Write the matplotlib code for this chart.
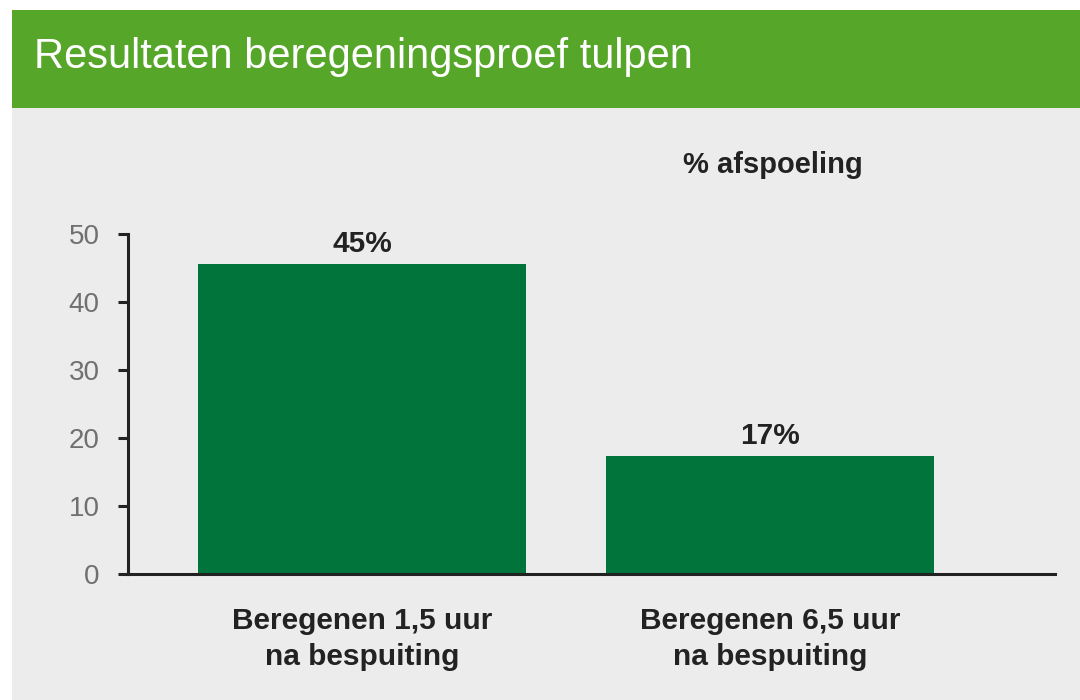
import matplotlib.pyplot as plt
from matplotlib.patches import Rectangle

# data
categories = ["Beregenen 1,5 uur\nna bespuiting", "Beregenen 6,5 uur\nna bespuiting"]
values = [45.6, 17.4]
value_labels = ["45%", "17%"]
yticks = [0, 10, 20, 30, 40, 50]
title = "Resultaten beregeningsproef tulpen"
unit_label = "% afspoeling"

W, H = 1080, 700
plt.rcParams['font.family'] = ['Liberation Sans', 'DejaVu Sans']

def fx(px):
    return px / W

def fy(py):
    return 1 - py / H

fig = plt.figure(figsize=(W / 100, H / 100), dpi=100, facecolor='white')

# grey panel + green header band (behind the axes)
fig.patches.append(Rectangle((fx(12), 0), 1 - fx(12), fy(10), transform=fig.transFigure,
                             facecolor='#ececec', edgecolor='none', zorder=-2))
fig.patches.append(Rectangle((fx(12), fy(108)), 1 - fx(12), fy(10) - fy(108), transform=fig.transFigure,
                             facecolor='#55a629', edgecolor='none', zorder=-1))
fig.text(fx(34), fy(68), title, color='white', fontsize=30, va='baseline', ha='left')

# axes
x0, x1 = 128, 1055
ybot, ytop = 574, 234
ax = fig.add_axes([fx(x0), fy(ybot), fx(x1) - fx(x0), fy(ytop) - fy(ybot)])
ax.set_zorder(2)
ax.patch.set_alpha(0)

xs = list(range(len(categories)))
ax.bar(xs, values, width=0.804, color='#00743a', zorder=2)
for x, v, lab in zip(xs, values, value_labels):
    ax.annotate(lab, (x, v), xytext=(0, 8.5), textcoords='offset points',
                ha='center', va='baseline', fontsize=21.5, fontweight='bold', color='#222222')

ax.set_xlim(-0.5735, 1.6985)
ax.set_ylim(0, 50)
ax.set_yticks(yticks)
ax.set_xticks(xs)
ax.set_xticklabels(categories, fontsize=21.5, fontweight='bold', color='#222222',
                   linespacing=1.35)
ax.tick_params(axis='x', length=0, pad=24)
ax.tick_params(axis='y', length=7.5, width=2.2, color='#222222', pad=13,
               labelsize=20, labelcolor='#707070')
for s in ['top', 'right']:
    ax.spines[s].set_visible(False)
for s in ['left', 'bottom']:
    ax.spines[s].set_linewidth(2.2)
    ax.spines[s].set_color('#222222')

fig.text(fx(773), fy(173), unit_label, fontsize=21, fontweight='bold', color='#222222',
         ha='center', va='baseline')

fig.savefig('out.png', dpi=100, facecolor=fig.get_facecolor())
